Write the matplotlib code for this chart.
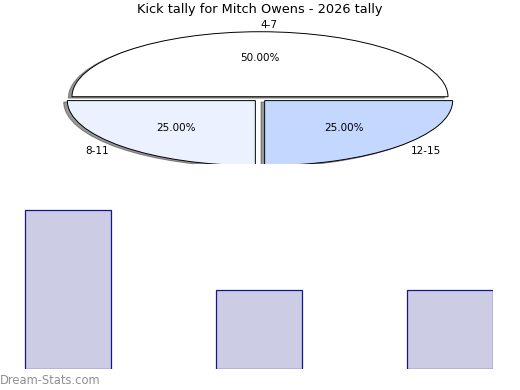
import matplotlib
matplotlib.use("Agg")
import matplotlib.pyplot as plt

# data
labels = ["4-7", "8-11", "12-15"]
shares = [50, 25, 25]
slice_colors = ["#ffffff", "#ebf1ff", "#c4d8ff"]
bar_values = [2, 1, 1]

W, H = 520, 390
fig = plt.figure(figsize=(W / 100, H / 100), dpi=100)

# pie axes, squashed on purpose so the pie becomes an ellipse
pie_top, pie_bot = 20, 163.5
ax = fig.add_axes([0, 1 - pie_bot / H, 1, (pie_bot - pie_top) / H])
wedges, texts, autotexts = ax.pie(
    shares, labels=labels, colors=slice_colors, autopct="%.2f%%",
    explode=[0.035, 0.035, 0.035],
    shadow={"ox": -0.014, "oy": -0.015, "color": "#333333"},
    startangle=0,
    wedgeprops={"edgecolor": "black", "linewidth": 0.7},
    textprops={"fontsize": 7.5})
for p in ax.patches:
    p.set_clip_on(True)
texts[0].set_ha("left")
ax.set_aspect("auto")
cy = 99
ax.set_xlim(-W / 2 / 188, W / 2 / 188)
ax.set_ylim(-(pie_bot - cy) / 65, (cy - pie_top) / 65)
ax.axis("off")

fig.text(260 / W, 1 - 9 / H, "Kick tally for Mitch Owens - 2026 tally",
         ha="center", va="center", fontsize=9.3)

# bar chart below
bar_top, bar_bot, bar_right = 180, 369, 493
bx = fig.add_axes([0, 1 - bar_bot / H, bar_right / W, (bar_bot - bar_top) / H])
bx.bar(range(len(bar_values)), bar_values, width=0.45,
       color="#ccccE5", edgecolor="#15158c", linewidth=0.9)
bx.set_xlim(-68 / 191, (bar_right - 68) / 191)
bx.set_ylim(0, (bar_bot - bar_top) / 79.5)
bx.axis("off")

fig.text(0, 1 - 380 / H, "Dream-Stats.com", ha="left", va="center",
         fontsize=8.3, color="#909090")

fig.savefig("out.png", dpi=100)
